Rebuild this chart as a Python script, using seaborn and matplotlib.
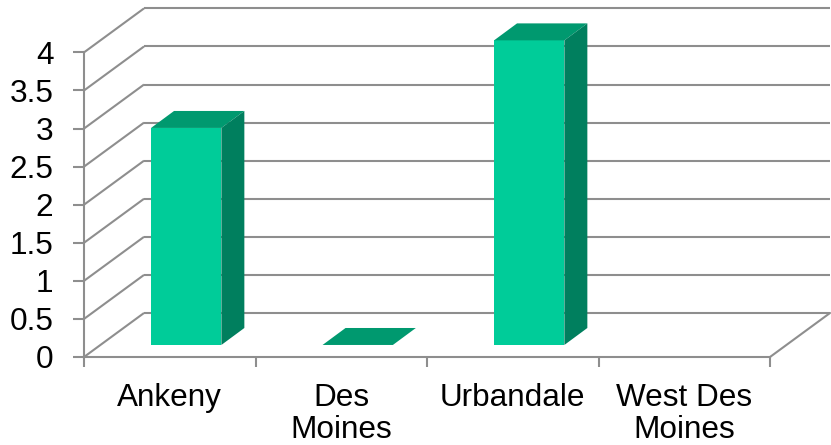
import numpy as np
import pandas as pd
import matplotlib
matplotlib.use("Agg")
import matplotlib.pyplot as plt
from matplotlib.patches import Polygon
from matplotlib.ticker import FuncFormatter
import seaborn as sns

# ---- data ----
categories = ["Ankeny", "Des\nMoines", "Urbandale", "West Des\nMoines"]
values = [2.85, 0.0, 4.0, np.nan]
y_ticks = [0, 0.5, 1, 1.5, 2, 2.5, 3, 3.5, 4]

# ---- style ----
FRONT = "#00CC99"
TOP = "#00996F"
SIDE = "#007F5E"
GRID = "#8E8E8E"
LW = 1.5
# oblique 3D offsets (data units)
WDX, WDY = 0.35, 0.578       # back wall depth
FDX, FDY = 0.096, 0.158      # bar front face depth
BDX, BDY = 0.134, 0.223      # bar thickness (front->back)

sns.set_theme(style="white")
plt.rcParams["font.family"] = ["Liberation Sans", "DejaVu Sans"]

fig = plt.figure(figsize=(8.31, 4.45), dpi=100)
ax = fig.add_axes([84 / 831, (445 - 357) / 445, 686 / 831, 304.6 / 445])

df = pd.DataFrame({"city": categories, "value": values})
sns.barplot(data=df, x="city", y="value", order=categories, color=FRONT,
            width=0.41, saturation=1, ax=ax, zorder=3, edgecolor="none")

ax.set_xlim(-0.5, 3.5)
ax.set_ylim(0, 4)

# 3D walls / gridlines
for v in y_ticks:
    ax.plot([-0.5, -0.5 + WDX], [v, v + WDY], color=GRID, lw=LW,
            clip_on=False, zorder=1, solid_capstyle="butt")
    ax.plot([-0.5 + WDX, 3.5 + WDX], [v + WDY, v + WDY], color=GRID, lw=LW,
            clip_on=False, zorder=1, solid_capstyle="butt")
ax.plot([3.5, 3.5 + WDX], [0, WDY], color=GRID, lw=LW, clip_on=False, zorder=1)

# shift bars into depth and draw top / side faces
for p in list(ax.patches):
    h = p.get_height()
    if h is None or np.isnan(h):
        p.set_visible(False)
        continue
    x0 = p.get_x() + FDX
    w = p.get_width()
    p.set_x(x0)
    p.set_y(FDY)
    y1 = FDY + h
    top = Polygon([[x0, y1], [x0 + w, y1], [x0 + w + BDX, y1 + BDY],
                   [x0 + BDX, y1 + BDY]], closed=True, facecolor=TOP,
                  edgecolor="none", zorder=3, clip_on=False)
    ax.add_patch(top)
    if h > 0:
        side = Polygon([[x0 + w, FDY], [x0 + w + BDX, FDY + BDY],
                        [x0 + w + BDX, y1 + BDY], [x0 + w, y1]], closed=True,
                       facecolor=SIDE, edgecolor="none", zorder=3, clip_on=False)
        ax.add_patch(side)
    p.set_clip_on(False)

# axes styling
for s in ["top", "right"]:
    ax.spines[s].set_visible(False)
for s in ["left", "bottom"]:
    ax.spines[s].set_color(GRID)
    ax.spines[s].set_linewidth(LW)
    ax.spines[s].set_zorder(1)

ax.set_yticks(y_ticks)
ax.yaxis.set_major_formatter(FuncFormatter(lambda v, pos: f"{v:g}"))
ax.set_xticks(range(len(categories)))
ax.set_xticklabels(categories)
ax.set_xticks(np.arange(-0.5, len(categories), 1.0), minor=True)
ax.tick_params(axis="y", which="major", left=True, length=8, width=LW,
               color=GRID, pad=14, labelsize=22.7, labelcolor="black")
ax.tick_params(axis="x", which="major", bottom=True, length=0, pad=18.5,
               labelsize=22.7, labelcolor="black")
ax.tick_params(axis="x", which="minor", bottom=True, length=7.2, width=LW,
               color=GRID)
for t in ax.get_xticklabels():
    t.set_linespacing(1.1)
ax.set_xlabel("")
ax.set_ylabel("")
ax.grid(False)

fig.savefig("out.png", dpi=100)
